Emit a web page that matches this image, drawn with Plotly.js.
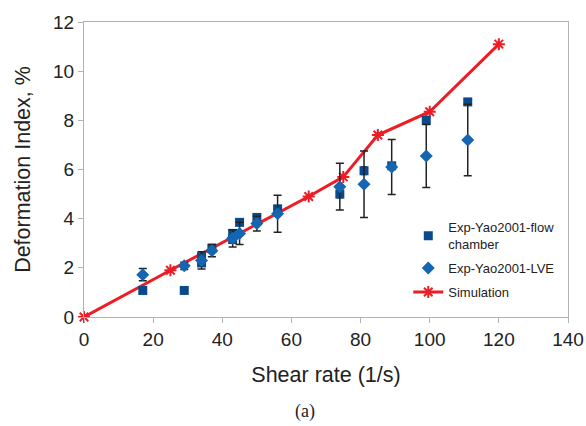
<!DOCTYPE html>
<html>
<head>
<meta charset="utf-8">
<script src="https://cdn.plot.ly/plotly-3.0.1.min.js"></script>
<style>html,body{margin:0;padding:0;background:#fff;}#chart{width:586px;height:426px;}</style>
</head>
<body>
<div id="chart"></div>
<script>
// Exp-Yao2001-flow chamber (squares)
const flowX = [17, 29, 34, 34, 37, 43, 43, 45, 50, 56, 74, 81, 89, 99, 111];
const flowY = [1.08, 1.08, 2.2, 2.45, 2.8, 3.15, 3.4, 3.85, 4.05, 4.4, 5.0, 5.95, 6.15, 8.0, 8.75];
const flowErr = [0.1, 0.1, 0.12, 0.12, 0.12, 0.12, 0.12, 0.12, 0.1, 0.12, 0.15, 0.15, 0.12, 0.12, 0.12];
// Exp-Yao2001-LVE (diamonds)
const lveX = [17, 29, 34, 37, 43, 45, 50, 56, 74, 81, 89, 99, 111];
const lveY = [1.72, 2.08, 2.3, 2.7, 3.2, 3.4, 3.8, 4.2, 5.3, 5.4, 6.1, 6.55, 7.2];
const lveErr = [0.25, 0.15, 0.35, 0.25, 0.35, 0.45, 0.3, 0.75, 0.95, 1.35, 1.12, 1.28, 1.45];
// Simulation
const simX = [0, 25, 65, 75, 85, 100, 120];
const simY = [0, 1.9, 4.9, 5.7, 7.4, 8.35, 11.1];
const xTicks = [0, 20, 40, 60, 80, 100, 120, 140];
const yTicks = [0, 2, 4, 6, 8, 10, 12];

const FONT = "'Liberation Sans', Arial, sans-serif";

const traces = [
  {
    x: simX, y: simY, name: 'Simulation', type: 'scatter', mode: 'lines+markers', cliponaxis: false,
    line: {color: '#ee1c25', width: 3},
    marker: {symbol: 'asterisk-open', size: 10, color: '#ee1c25', line: {color: '#ee1c25', width: 2}},
    legendrank: 3, legendgroup: 'c'
  },
  {
    x: flowX, y: flowY, name: 'Exp-Yao2001-flow<br>chamber', type: 'scatter', mode: 'markers',
    marker: {symbol: 'square', size: 9, color: '#0b4a8a'},
    error_y: {type: 'data', array: flowErr, visible: true, color: '#111', thickness: 1.5, width: 3},
    legendrank: 1, legendgroup: 'a'
  },
  {
    x: lveX, y: lveY, name: 'Exp-Yao2001-LVE', type: 'scatter', mode: 'markers',
    marker: {symbol: 'diamond', size: 10, color: '#1565b0'},
    error_y: {type: 'data', array: lveErr, visible: true, color: '#222', thickness: 1.5, width: 4},
    legendrank: 2, legendgroup: 'b'
  }
];

const layout = {
  width: 586, height: 426,
  margin: {l: 84, r: 18, t: 22, b: 109},
  paper_bgcolor: '#fff', plot_bgcolor: '#fff',
  font: {family: FONT, color: '#222'},
  showlegend: true,
  legend: {x: 0.67, y: 0.355, xanchor: 'left', yanchor: 'top', bgcolor: 'rgba(0,0,0,0)',
           font: {family: FONT, size: 13, color: '#222'}, tracegroupgap: 4, itemwidth: 30},
  xaxis: {
    range: [0, 140], tickvals: xTicks, ticktext: xTicks.map(String),
    showgrid: false, zeroline: false, showline: true, linecolor: '#b3b3b3', linewidth: 1, mirror: true,
    ticks: 'outside', ticklen: 5, tickcolor: '#b3b3b3', tickfont: {family: FONT, size: 19, color: '#222'},
    title: {text: 'Shear rate (1/s)', font: {family: FONT, size: 21.5, color: '#222'}, standoff: 18}
  },
  yaxis: {
    range: [0, 12], tickvals: yTicks, ticktext: yTicks.map(String),
    showgrid: false, zeroline: false, showline: true, linecolor: '#b3b3b3', linewidth: 1, mirror: true,
    ticks: 'outside', ticklen: 5, tickcolor: '#b3b3b3', tickfont: {family: FONT, size: 19, color: '#222'},
    title: {text: 'Deformation Index, %', font: {family: FONT, size: 21.5, color: '#222'}, standoff: 16}
  },
  annotations: [{
    text: '(a)', xref: 'paper', yref: 'paper', x: 0.457, y: -0.32, xanchor: 'center', yanchor: 'middle',
    showarrow: false, font: {family: "'Liberation Serif', 'Times New Roman', serif", size: 18, color: '#222'}
  }]
};

Plotly.newPlot('chart', traces, layout, {displayModeBar: false, staticPlot: true});
</script>
</body>
</html>
